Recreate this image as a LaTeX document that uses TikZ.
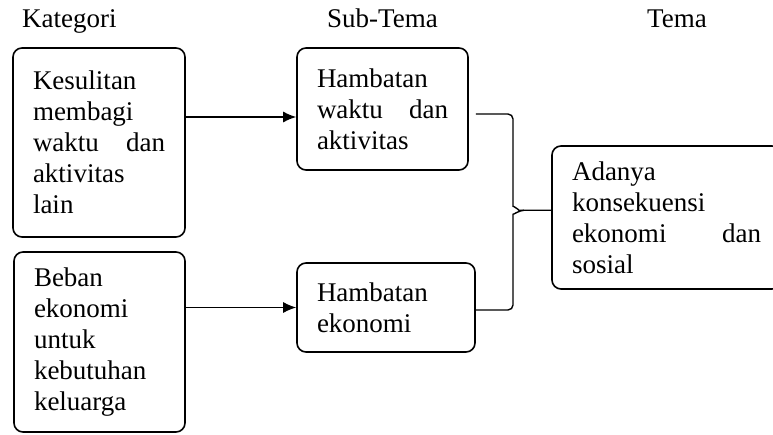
\documentclass[tikz,border=0pt]{standalone}
\usepackage{fontspec}
\setmainfont{Liberation Serif}
\usepackage{tikz}
\usetikzlibrary{arrows.meta,calc,positioning}
\newcommand{\twoword}[2]{\makebox[\linewidth]{#1\hfill #2}}

\begin{document}
\begin{tikzpicture}[x=1pt,y=1pt,
  kotak/.style={draw, line width=1.6pt, rounded corners=9pt, align=left,
    inner xsep=20pt, font=\fontsize{27}{31}\selectfont},
  judul/.style={anchor=base west, inner sep=0pt, font=\fontsize{27}{31}\selectfont},
  panah/.style={line width=1.4pt, -{Latex[length=13pt,width=11pt]}},
  kurung/.style={line width=1.4pt, rounded corners=5pt}]
\clip (0,0) rectangle (773,434);
%
% judul kolom
\node[judul] (hkat) at (22,406) {Kategori};
\node[judul] (hsub) at (327,406) {Sub-Tema};
\node[judul] (htema) at (647,406) {Tema};
%
% kategori
\node[kotak, text width=132pt, minimum height=189pt] (kat1) at (99,291.5)
  {Kesulitan\\ membagi\\ \twoword{waktu}{dan}\\ aktivitas\\ lain};
\node[kotak, text width=131pt, minimum height=180pt] (kat2) at (99.5,92)
  {Beban\\ ekonomi\\ untuk\\ kebutuhan\\ keluarga};
%
% sub-tema
\node[kotak, text width=131pt, minimum height=122pt] (sub1) at (382.5,325)
  {Hambatan\\ \twoword{waktu}{dan}\\ aktivitas};
\node[kotak, text width=138pt, minimum height=89pt] (sub2) at (386,126.5)
  {Hambatan\\ ekonomi};
%
% tema
\node[kotak, text width=189pt, minimum height=143pt] (tema) at (666.5,216.5)
  {Adanya\\ konsekuensi\\ \twoword{ekonomi}{dan}\\ sosial};
%
\coordinate (masuk1) at ([yshift=-8pt]sub1.west);
\draw[panah] (kat1.east |- masuk1) -- (masuk1);
\draw[panah] (kat2.east |- sub2.west) -- (sub2.west);
%
% kurung kurawal
\coordinate (brx) at (513,0);
\coordinate (tip) at ($(tema.south west)!0.55!(tema.north west)$);
\draw[kurung] ([xshift=7pt,yshift=-5pt]sub1.east) -| ([yshift=9pt]tip -| brx)
  to[out=-90,in=180,looseness=0.8] ([xshift=11pt]tip -| brx) -- (tip);
\draw[kurung] ([yshift=-2.5pt]sub2.east) -| ([yshift=-9pt]tip -| brx)
  to[out=90,in=180,looseness=0.8] ([xshift=11pt]tip -| brx);
\end{tikzpicture}
\end{document}
